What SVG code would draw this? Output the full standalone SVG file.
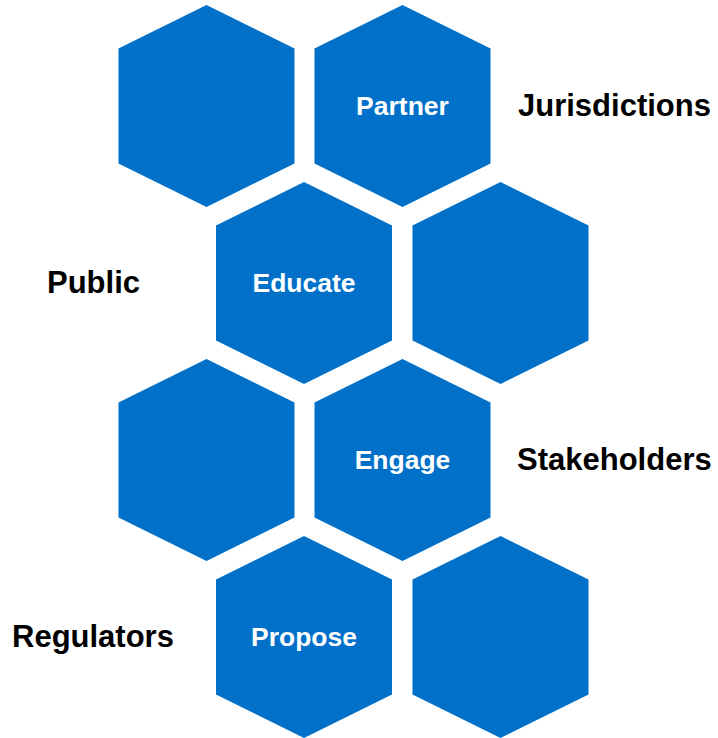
<svg xmlns="http://www.w3.org/2000/svg" width="718" height="738" viewBox="0 0 718 738">
<style>
.hex{fill:#0070C9}
.in{font-family:"Liberation Sans",Arial,sans-serif;font-weight:bold;font-size:26.5px;fill:#fff;text-anchor:middle;dominant-baseline:central}
.out{font-family:"Liberation Sans",Arial,sans-serif;font-weight:bold;font-size:31px;fill:#000;dominant-baseline:central}
</style>
<defs>
<polygon id="h" points="0,-101 88,-57.5 88,57.5 0,101 -88,57.5 -88,-57.5"/>
</defs>
<rect width="718" height="738" fill="#fff"/>
<g id="hex1"><use href="#h" class="hex" x="206.5" y="106"/></g>
<g id="partner"><use href="#h" class="hex" x="402.5" y="106"/><text class="in" x="402.5" y="106">Partner</text></g>
<g id="educate"><use href="#h" class="hex" x="304" y="283"/><text class="in" x="304" y="283">Educate</text></g>
<g id="hex4"><use href="#h" class="hex" x="500.5" y="283"/></g>
<g id="hex5"><use href="#h" class="hex" x="206.5" y="460"/></g>
<g id="engage"><use href="#h" class="hex" x="402.5" y="460"/><text class="in" x="402.5" y="460">Engage</text></g>
<g id="propose"><use href="#h" class="hex" x="304" y="637"/><text class="in" x="304" y="637">Propose</text></g>
<g id="hex8"><use href="#h" class="hex" x="500.5" y="637"/></g>
<g id="labels">
<text class="out" x="518" y="105">Jurisdictions</text>
<text class="out" x="47" y="282">Public</text>
<text class="out" x="517" y="459">Stakeholders</text>
<text class="out" x="12" y="636">Regulators</text>
</g>
<g id="connectors"></g>
</svg>
